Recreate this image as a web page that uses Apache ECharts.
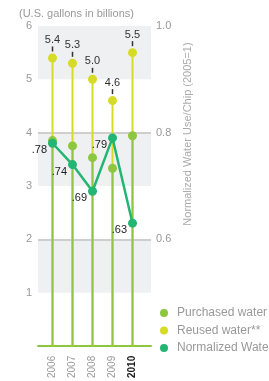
<!DOCTYPE html>
<html>
<head>
<meta charset="utf-8">
<script src="https://cdn.jsdelivr.net/npm/echarts@6/dist/echarts.min.js"></script>
<style>
html,body{margin:0;padding:0;background:#fff;}
#container{width:269px;height:381px;}
</style>
</head>
<body>
<div id="container"></div>
<script>
var years = ['2006', '2007', '2008', '2009', '2010'];
var purchased = [3.85, 3.75, 3.53, 3.33, 3.94];
var reused = [5.4, 5.3, 5.0, 4.6, 5.5];
var normalized = [0.78, 0.74, 0.69, 0.79, 0.63];
var legendNames = ['Purchased water', 'Reused water**', 'Normalized Water Use/Chip'];

var GREEN = '#8dc63f', YELLOW = '#d6dc26', TEAL = '#22b573';
var FONT = '"Liberation Sans", Arial, sans-serif';

var dom = document.querySelector('#container');
var myChart = echarts.init(dom);

var option = {
    animation: false,
    textStyle: { fontFamily: FONT },
    grid: [
        { left: 38, right: 118, top: 26, bottom: 35 },
        { left: 42.5, right: 126.5, top: 26, bottom: 35 }
    ],
    xAxis: [
        {
            gridIndex: 0, type: 'value', min: 0, max: 1,
            axisLine: { show: true, lineStyle: { color: GREEN, width: 2 } },
            axisTick: { show: false }, axisLabel: { show: false }, splitLine: { show: false }
        },
        {
            gridIndex: 1, type: 'category', data: years,
            axisLine: { show: false }, axisTick: { show: false },
            axisLabel: {
                rotate: 90, margin: 10,
                formatter: function (v) { return v === '2010' ? '{b|' + v + '}' : '{n|' + v + '}'; },
                rich: {
                    n: { fontSize: 10, color: '#999', fontFamily: FONT },
                    b: { fontSize: 10, color: '#222', fontWeight: 'bold', fontFamily: FONT }
                }
            }
        }
    ],
    yAxis: [
        {
            gridIndex: 0, type: 'value', position: 'left', min: 0, max: 6, interval: 1,
            axisLine: { show: false }, axisTick: { show: false },
            axisLabel: {
                margin: 6, color: '#999', fontSize: 11,
                formatter: function (v) { return v === 0 ? '' : v; }
            },
            splitLine: {
                show: true,
                lineStyle: { color: ['rgba(0,0,0,0)', 'rgba(0,0,0,0)', '#c2c2c2', 'rgba(0,0,0,0)', '#c2c2c2', 'rgba(0,0,0,0)', 'rgba(0,0,0,0)'], width: 1.5 }
            },
            splitArea: { show: true, areaStyle: { color: ['rgba(0,0,0,0)', '#eff0f2'] } }
        },
        {
            gridIndex: 0, type: 'value', position: 'right', min: 0.4, max: 1, interval: 0.2,
            axisLine: { show: false }, axisTick: { show: false }, splitLine: { show: false },
            axisLabel: {
                margin: 5, color: '#999', fontSize: 11,
                formatter: function (v) { return v < 0.5 ? '' : v.toFixed(1); }
            }
        },
        { gridIndex: 1, type: 'value', min: 0, max: 6, show: false },
        { gridIndex: 1, type: 'value', min: 0.4, max: 1, show: false }
    ],
    legend: {
        data: legendNames,
        orient: 'vertical', left: 160, top: 307, padding: 0,
        icon: 'circle', itemWidth: 8, itemHeight: 8, itemGap: 5.5,
        selectedMode: false,
        textStyle: { color: '#999', fontSize: 12, fontFamily: FONT, padding: [0, 0, 0, 4] }
    },
    graphic: [
        {
            type: 'text', left: 19, top: 8,
            style: { text: '(U.S. gallons in billions)', fill: '#999', font: '11px ' + FONT }
        },
        {
            type: 'text', x: 188, y: 134, rotation: Math.PI / 2,
            style: {
                text: 'Normalized Water Use/Chip (2005=1)', fill: '#aaa', font: '11px ' + FONT,
                textAlign: 'center', textVerticalAlign: 'middle'
            }
        }
    ],
    series: [
        {
            name: 'Reused water**', type: 'bar', xAxisIndex: 1, yAxisIndex: 2,
            data: reused, barWidth: 2, barGap: '-100%', itemStyle: { color: YELLOW }
        },
        {
            name: 'Purchased water', type: 'bar', xAxisIndex: 1, yAxisIndex: 2,
            data: purchased, barWidth: 2, barGap: '-100%', itemStyle: { color: GREEN }
        },
        {
            name: 'Reused water**', type: 'scatter', xAxisIndex: 1, yAxisIndex: 2,
            data: reused, symbolSize: 9, itemStyle: { color: YELLOW, opacity: 1 },
            label: {
                show: true, position: 'top', distance: 2,
                formatter: function (p) { return '{v|' + p.value.toFixed(1) + '}\n{t|}'; },
                rich: {
                    v: { fontSize: 11, color: '#333', lineHeight: 13, align: 'center', fontFamily: FONT },
                    t: { width: 1.5, height: 5, backgroundColor: '#333', align: 'center' }
                }
            }
        },
        {
            name: 'Purchased water', type: 'scatter', xAxisIndex: 1, yAxisIndex: 2,
            data: purchased, symbolSize: 9, itemStyle: { color: GREEN, opacity: 1 }
        },
        {
            name: 'Normalized Water Use/Chip', type: 'line', xAxisIndex: 1, yAxisIndex: 3,
            data: normalized, symbol: 'circle', symbolSize: 9,
            itemStyle: { color: TEAL }, lineStyle: { color: TEAL, width: 2.5 },
            label: {
                show: true, position: 'left', distance: 1, offset: [0, 7],
                color: '#222', fontSize: 11, fontFamily: FONT,
                formatter: function (p) { return p.value.toFixed(2).replace(/^0/, ''); }
            }
        }
    ]
};

myChart.setOption(option);
</script>
</body>
</html>
